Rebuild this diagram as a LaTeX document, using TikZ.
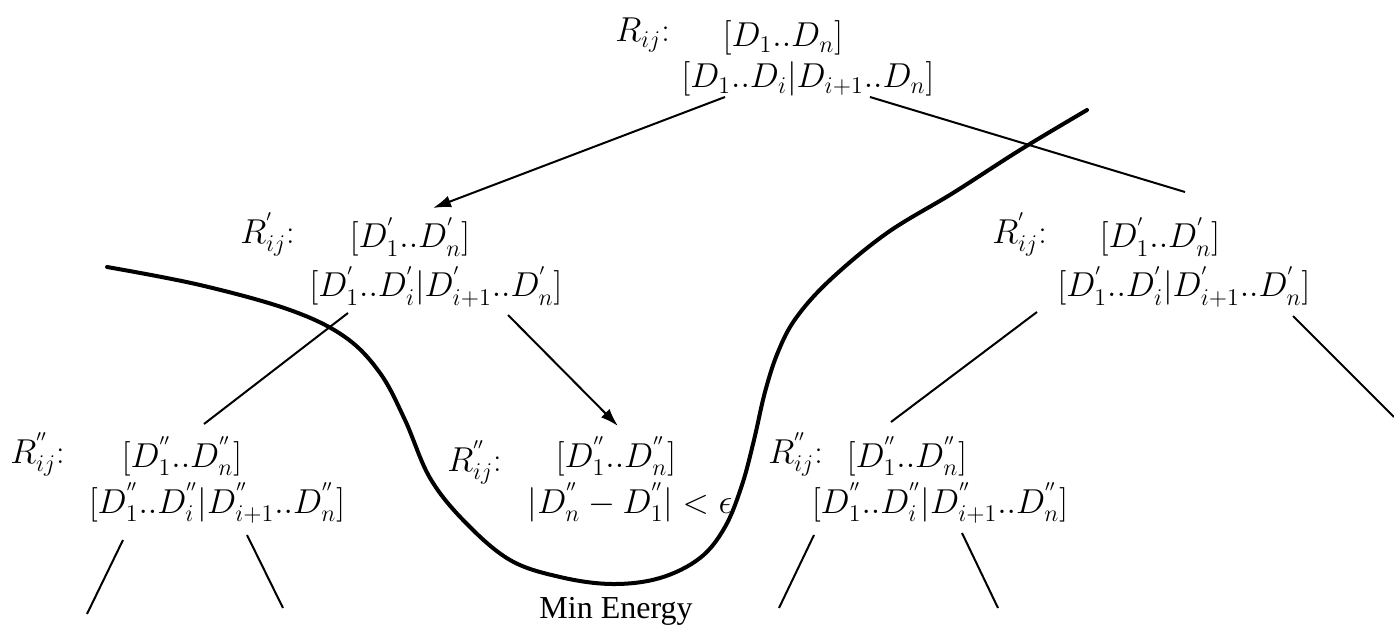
\documentclass[tikz,border=0pt]{standalone}
\usepackage{fontspec}
\newfontfamily\timesfont{Liberation Serif}
\usetikzlibrary{arrows.meta}
\begin{document}
\begin{tikzpicture}[x=0.5pt,y=-0.5pt,
  lbl/.style={inner sep=0pt, font=\fontsize{17}{20}\selectfont},
  lblw/.style={lbl, anchor=base west},
  lblc/.style={lbl, anchor=base},
  edge/.style={line width=1pt},
  arr/.style={edge, -{Latex[length=9pt,width=6pt]}},
  curve/.style={line width=2pt, line cap=round, line join=round}]
\useasboundingbox (0,0) rectangle (1394,626);

% top
\node[lblw] (r0) at (615,42) {$R_{ij}$:};
\node[lblc] (t1) at (783,47) {$[D_1..D_n]$};
\node[lblc] (t2) at (808,88) {$[D_1..D_i|D_{i+1}..D_n]$};

% level 2 left
\node[lblw] (rl) at (240,243) {$R^{'}_{ij}$:};
\node[lblc] (l1) at (410,248) {$[D^{'}_1..D^{'}_n]$};
\node[lblc] (l2) at (436,297) {$[D^{'}_1..D^{'}_i|D^{'}_{i+1}..D^{'}_n]$};

% level 2 right
\node[lblw] (rr) at (992,243) {$R^{'}_{ij}$:};
\node[lblc] (r1) at (1160,248) {$[D^{'}_1..D^{'}_n]$};
\node[lblc] (r2) at (1184,297) {$[D^{'}_1..D^{'}_i|D^{'}_{i+1}..D^{'}_n]$};

% level 3 left
\node[lblw] (rll) at (10,463) {$R^{''}_{ij}$:};
\node[lblc] (ll1) at (182,467) {$[D^{''}_1..D^{''}_n]$};
\node[lblc] (ll2) at (217,513) {$[D^{''}_1..D^{''}_i|D^{''}_{i+1}..D^{''}_n]$};

% level 3 middle
\node[lblw] (rm) at (447,471) {$R^{''}_{ij}$:};
\node[lblc] (m1) at (616,467) {$[D^{''}_1..D^{''}_n]$};
\node[lblc] (m2) at (630,513) {$|D^{''}_n-D^{''}_1|<\epsilon$};

% level 3 right
\node[lblw] (rrr) at (768,463) {$R^{''}_{ij}$:};
\node[lblc] (rr1) at (907,467) {$[D^{''}_1..D^{''}_n]$};
\node[lblc] (rr2) at (940,513) {$[D^{''}_1..D^{''}_i|D^{''}_{i+1}..D^{''}_n]$};

\node[anchor=base, inner sep=0pt, font=\timesfont\fontsize{16}{19}\selectfont] (me) at (616,618) {Min Energy};

% connector end points
\coordinate (a0) at (725,97);  \coordinate (a1) at (433,208);
\coordinate (b0) at (870,97);  \coordinate (b1) at (1185,192);
\coordinate (c0) at (348,313); \coordinate (c1) at (204,424);
\coordinate (d0) at (508,315); \coordinate (d1) at (618,426);
\coordinate (e0) at (1037,312);\coordinate (e1) at (891,422);
\coordinate (f0) at (1293,316);\coordinate (f1) at (1394,417);
\coordinate (g0) at (123,540); \coordinate (g1) at (87,614);
\coordinate (h0) at (247,535); \coordinate (h1) at (283,608);
\coordinate (i0) at (814,535); \coordinate (i1) at (779,608);
\coordinate (j0) at (962,533); \coordinate (j1) at (998,608);

\draw[arr] (a0) -- (a1);
\draw[edge] (b0) -- (b1);
\draw[edge] (c0) -- (c1);
\draw[arr] (d0) -- (d1);
\draw[edge] (e0) -- (e1);
\draw[edge] (f0) -- (f1);
\draw[edge] (g0) -- (g1);
\draw[edge] (h0) -- (h1);
\draw[edge] (i0) -- (i1);
\draw[edge] (j0) -- (j1);

% energy curve
\draw[curve] plot[smooth, tension=0.6] coordinates {
  (107,267) (200,285) (290,310) (345,337) (380,373) (405,420) (430,478)
  (465,522) (510,560) (560,577) (612,584) (660,578) (700,558) (725,527)
  (742,485) (754,440) (765,392) (778,352) (796,318) (830,280) (887,233)
  (953,193) (1020,150) (1087,110)};
\end{tikzpicture}
\end{document}
